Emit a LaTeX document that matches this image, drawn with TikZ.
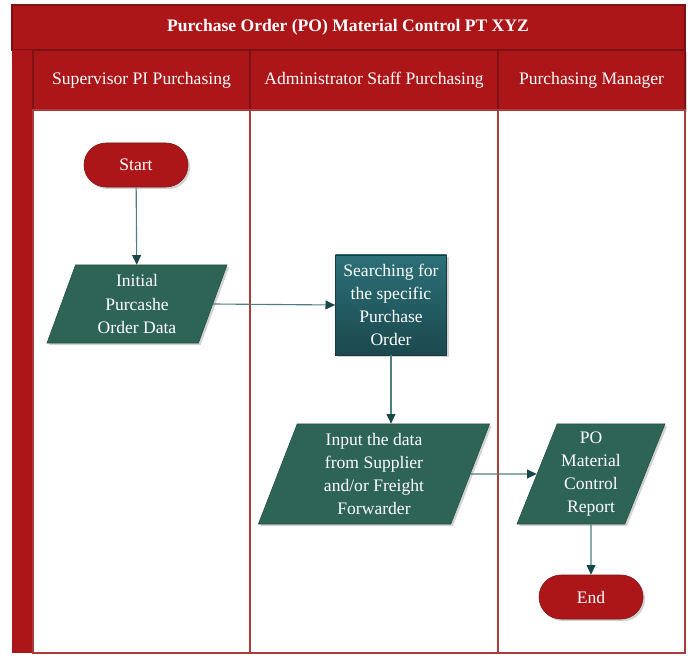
\documentclass[tikz,border=0pt]{standalone}
\usepackage{fontspec}
\setmainfont{Liberation Serif}
\usetikzlibrary{arrows.meta,positioning,shapes.geometric,shadows}
\definecolor{lanered}{RGB}{172,22,24}
\definecolor{laneborder}{RGB}{125,18,20}
\definecolor{laneline}{RGB}{170,60,60}
\definecolor{iogreen}{RGB}{46,100,86}
\definecolor{proctop}{RGB}{44,112,120}
\definecolor{procbot}{RGB}{27,72,78}
\definecolor{flowline}{RGB}{80,125,130}
\definecolor{flowtip}{RGB}{25,70,75}

\tikzset{
  boxfont/.style={font=\fontsize{12.5}{16.4}\selectfont, text=white, align=center},
  softshadow/.style={drop shadow={opacity=0.35, shadow xshift=1.5pt, shadow yshift=-1.5pt}},
  terminal/.style={boxfont, softshadow, rectangle, rounded corners=0.55cm, fill=lanered,
    draw=laneborder, minimum width=2.6cm, minimum height=1.1cm},
  iobox/.style={boxfont, softshadow, trapezium, trapezium left angle=66, trapezium right angle=114,
    trapezium stretches body, fill=iogreen, draw=iogreen!80!black, inner sep=2pt},
  procbox/.style={boxfont, softshadow, rectangle, top color=proctop, bottom color=procbot,
    draw=procbot!80!black, minimum width=2.78cm, minimum height=2.5cm, inner sep=2pt},
  flow/.style={draw=flowline, thick, -{Triangle[length=2.4mm, width=2.2mm, color=flowtip]}},
  lanecell/.style={fill=lanered, draw=laneborder, thick},
  lanebody/.style={fill=white, draw=laneline, thick}
}

\begin{document}
\begin{tikzpicture}[x=0.025cm, y=-0.025cm]
  \useasboundingbox (0,0) rectangle (688,656);
  % Title band
  \draw[lanecell] (12,5) rectangle (685,50);
  \node[font=\fontsize{12.5}{15}\selectfont\bfseries, text=white] (title) at (348,27)
    {Purchase Order (PO) Material Control PT XYZ};
  % Left stripe
  \fill[lanered] (12,50) rectangle (33,653);
  % Lanes
  \foreach \xa/\xb/\lname/\ltext in {33/250/supervisor/Supervisor PI Purchasing,
      250/498/admin/Administrator Staff Purchasing, 498/685/manager/Purchasing Manager} {
    \draw[lanecell, softshadow] (\xa,50) rectangle (\xb,110);
    \draw[lanebody] (\xa,110) rectangle (\xb,653);
    \node[font=\fontsize{12.5}{15}\selectfont, text=white] (\lname) at ({(\xa+\xb)/2},80) {\ltext};
  }
  % Flow nodes
  \node[terminal] (start) at (136,165) {Start};
  \node[iobox, minimum width=4.5cm, minimum height=1.95cm] (initdata) at (137,304)
    {Initial\\Purcashe\\Order Data};
  \node[procbox] (search) at (391,305) {Searching for\\the specific\\Purchase\\Order};
  \node[iobox, minimum width=5.78cm, minimum height=2.5cm] (inputdata) at (374,474)
    {Input the data\\from Supplier\\and/or Freight\\Forwarder};
  \node[iobox, minimum width=3.7cm, minimum height=2.5cm] (report) at (591,474)
    {PO\\Material\\Control\\Report};
  \node[terminal] (end) at (591,597) {End};
  % Connectors
  \draw[flow] (start) -- (initdata);
  \draw[flow] (initdata.east) -- (search.west);
  \draw[flow] (search.south) -- (search.south |- inputdata.north);
  \draw[flow] (inputdata.east) -- (report.west);
  \draw[flow] (report) -- (end);
\end{tikzpicture}
\end{document}
